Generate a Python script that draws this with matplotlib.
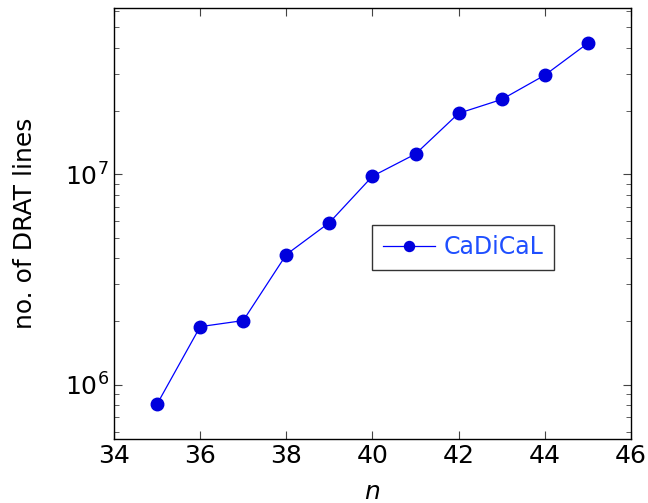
import matplotlib
matplotlib.use('Agg')
import matplotlib.pyplot as plt
from matplotlib.ticker import LogLocator, NullFormatter

n_values = [35, 36, 37, 38, 39, 40, 41, 42, 43, 44, 45]
drat_lines = [8.1e5, 1.89e6, 2.02e6, 4.16e6, 5.9e6, 9.8e6, 1.25e7, 1.95e7, 2.27e7, 2.96e7, 4.2e7]
x_ticks = [34, 36, 38, 40, 42, 44, 46]

plt.rcParams['font.family'] = ['DejaVu Sans']
plt.rcParams['mathtext.fontset'] = 'dejavusans'

fig = plt.figure(figsize=(6.48, 5.03), dpi=100)
ax = fig.add_axes([114 / 648, 1 - 439 / 503, 517 / 648, 431 / 503])

ax.plot(n_values, drat_lines, color='#0000ff', lw=0.9, marker='o', ms=9,
        markerfacecolor='#0000dd', markeredgecolor='#0000dd', label='CaDiCaL')

ax.set_yscale('log')
ax.set_xlim(34, 46)
ax.set_ylim(5.53e5, 6.17e7)
ax.set_xticks(x_ticks)
ax.yaxis.set_major_locator(LogLocator(base=10, numticks=10))
ax.yaxis.set_minor_locator(LogLocator(base=10, subs=range(2, 10), numticks=100))
ax.yaxis.set_minor_formatter(NullFormatter())

ax.tick_params(which='both', direction='in', top=True, right=True, labelsize=18, color='#444444')
ax.tick_params(which='major', length=6, width=0.8)
ax.tick_params(which='minor', length=3.5, width=0.6)
for s in ax.spines.values():
    s.set_linewidth(1.0)

ax.set_xlabel('$n$', fontsize=18, labelpad=9)
ax.set_ylabel('no. of DRAT lines', fontsize=18, labelpad=20)

leg = ax.legend(loc='center left', bbox_to_anchor=(0.499, 0.445), fontsize=17,
                frameon=True, fancybox=False, edgecolor='black', handlelength=2.2,
                handletextpad=0.4, borderpad=0.45, borderaxespad=0, markerscale=0.8)
leg.get_frame().set_linewidth(1.0)
for t in leg.get_texts():
    t.set_color('#1f4fff')

fig.savefig('out.png', dpi=100)
